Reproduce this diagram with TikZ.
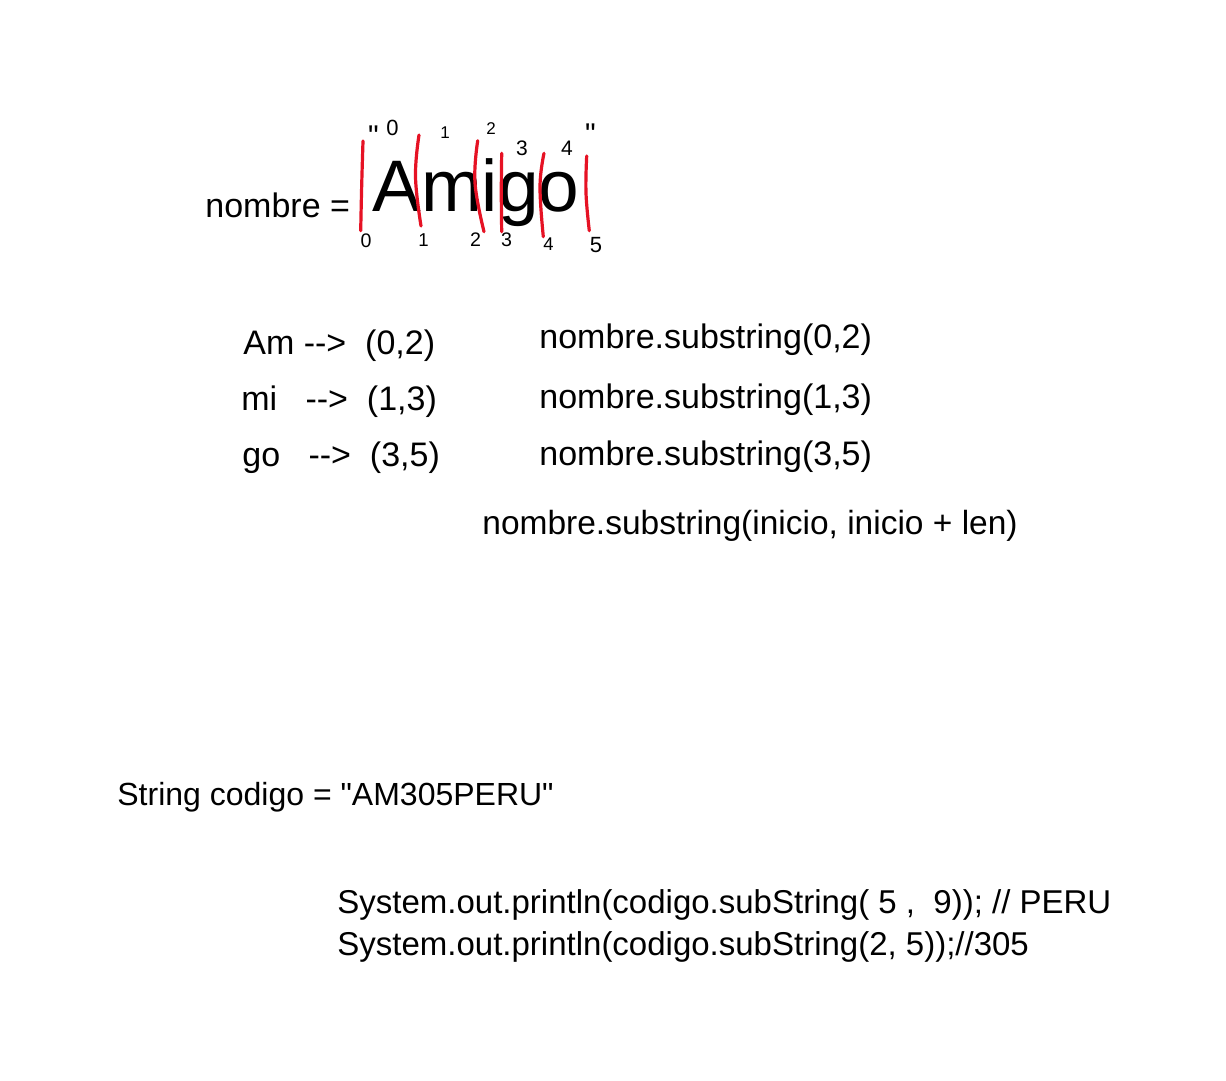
\documentclass[tikz,border=0pt]{standalone}
\usepackage{fontspec}
\setmainfont{Liberation Sans}[Ligatures=TeXOff]
\newfontfamily\handfont{Liberation Sans}[Ligatures=TeXOff]
\definecolor{inkred}{RGB}{230,18,36}
\tikzset{
  txt/.style={inner sep=0pt, anchor=base west, font=\fontsize{17}{20}\selectfont},
  hand/.style={inner sep=0pt, anchor=base west, font=\handfont\fontsize{16.5}{20}\selectfont},
  digit/.style={inner sep=0pt, anchor=center},
  quotemark/.style={inner sep=0pt, anchor=north, font=\fontsize{15}{18}\selectfont},
  ink/.style={draw=inkred, line width=1.6pt, line cap=round, line join=round}
}
\begin{document}
\begin{tikzpicture}[x=0.5pt,y=-0.5pt]
\useasboundingbox (0,0) rectangle (1226,1081);
\fill[white] (0,0) rectangle (1226,1081);

% assignment line
\node[txt] (lhs) at (205,217) {nombre =};
\node[txt, font=\fontsize{36.5}{40}\selectfont] (word) at (372,212) {Amigo};

% red separators
\draw[ink] plot[smooth, tension=0.7] coordinates {(363,141) (361.7,185) (360.7,230.7)};
\draw[ink] plot[smooth, tension=0.7] coordinates {(419,135) (415.5,177) (421,226)};
\draw[ink] plot[smooth, tension=0.7] coordinates {(477.7,140.7) (475,183) (484,231.7)};
\draw[ink] plot[smooth, tension=0.7] coordinates {(501.7,153.3) (501.3,192) (501.7,231.7)};
\draw[ink] plot[smooth, tension=0.7] coordinates {(544,153.3) (540,186.7) (543.3,236.7)};
\draw[ink] plot[smooth, tension=0.7] coordinates {(586.7,156) (586,193) (589.3,230.7)};

% top indices
\node[quotemark] (q1) at (373.5,125) {"};
\node[digit, font=\fontsize{11}{13}\selectfont] (t0) at (392.5,128) {0};
\node[digit, font=\fontsize{8.5}{10}\selectfont] (t1) at (445,133) {1};
\node[digit, font=\fontsize{8.5}{10}\selectfont] (t2) at (491,129) {2};
\node[digit, font=\fontsize{10.5}{12}\selectfont] (t3) at (522,148.5) {3};
\node[digit, font=\fontsize{10.5}{12}\selectfont] (t4) at (567,148.5) {4};
\node[quotemark] (q2) at (590.5,123) {"};

% bottom indices
\node[digit, font=\fontsize{9.8}{12}\selectfont] (b0) at (366,241) {0};
\node[digit, font=\fontsize{9.3}{12}\selectfont] (b1) at (423.5,240.5) {1};
\node[digit, font=\fontsize{9.8}{12}\selectfont] (b2) at (475.5,240) {2};
\node[digit, font=\fontsize{9.8}{12}\selectfont] (b3) at (506.5,240) {3};
\node[digit, font=\fontsize{9.2}{12}\selectfont] (b4) at (548.5,244.5) {4};
\node[digit, font=\fontsize{11}{13}\selectfont] (b5) at (596,245) {5};

% left column
\node[txt] (l1) at (243,354) {Am -->~~(0,2)};
\node[txt] (l2) at (241,410) {mi~~~-->~~(1,3)};
\node[txt] (l3) at (242,466) {go~~~-->~~(3,5)};

% right column
\node[txt] (r1) at (539,348) {nombre.substring(0,2)};
\node[txt] (r2) at (539,408) {nombre.substring(1,3)};
\node[txt] (r3) at (539,465) {nombre.substring(3,5)};
\node[txt, font=\fontsize{16.75}{20}\selectfont] (gen) at (482,534) {nombre.substring(inicio, inicio + len)};

% handwritten code
\node[hand, font=\handfont\fontsize{16}{20}\selectfont] (decl) at (117,805) {String codigo = "AM305PERU"};
\node[hand] (p1) at (337,913) {System.out.println(codigo.subString(~5~,~~9)); // PERU};
\node[hand] (p2) at (337,955) {System.out.println(codigo.subString(2, 5));//305};
\end{tikzpicture}
\end{document}
